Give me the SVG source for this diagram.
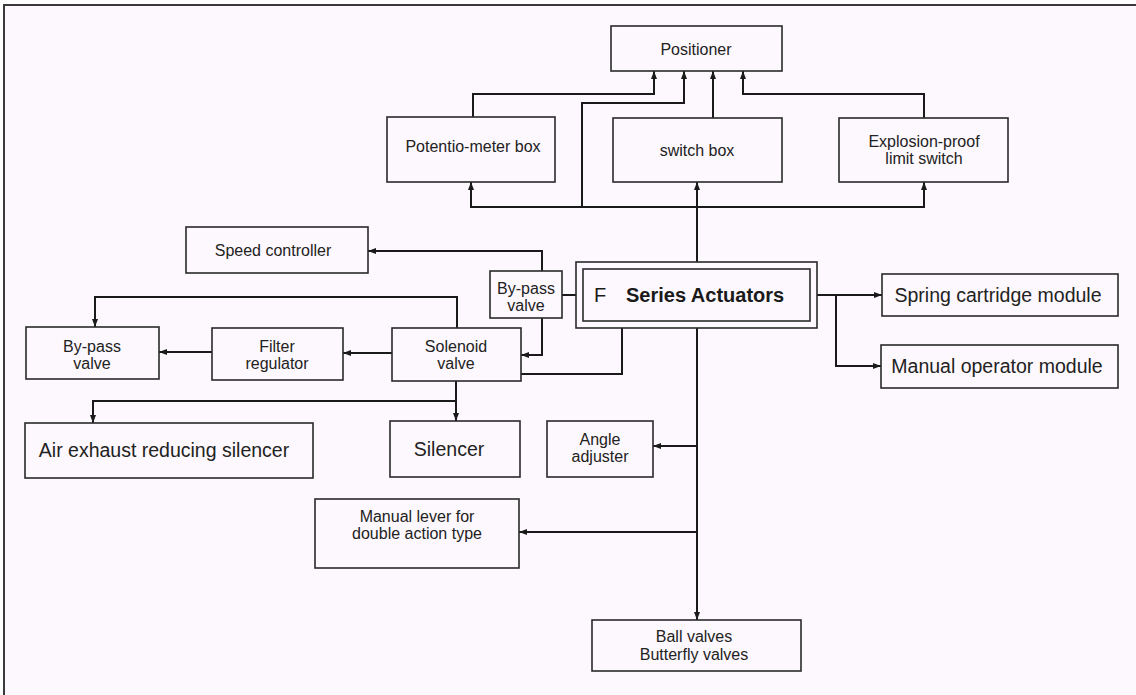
<svg xmlns="http://www.w3.org/2000/svg" width="1136" height="695" viewBox="0 0 1136 695">
<defs>
<marker id="ah" viewBox="0 0 8 6" refX="8" refY="3" markerWidth="8" markerHeight="6" markerUnits="userSpaceOnUse" orient="auto">
<path d="M0,0 L8,3 L0,6 z" fill="#1a1a1a"/>
</marker>
<style>
.box{fill:none;stroke:#2a2a2a;stroke-width:1.6}
.c{fill:none;stroke:#1a1a1a;stroke-width:2}
.a{marker-end:url(#ah)}
.t{font-family:"Liberation Sans",Arial,sans-serif;font-size:16px;fill:#222;text-anchor:middle}
.g{font-family:"Liberation Sans",Arial,sans-serif;font-size:19.5px;fill:#222;text-anchor:middle}
</style>
</defs>
<rect x="0" y="0" width="1136" height="695" fill="#ffffff"/>
<rect x="4" y="5" width="1132" height="690" fill="#fdf8fd"/>
<path d="M4,695 V5 H1136" fill="none" stroke="#3a3a3a" stroke-width="2"/>

<g id="connectors">
<path class="c a" d="M473,117 V94 H654 V71"/>
<path class="c a" d="M582,207 V103 H684 V71"/>
<path class="c a" d="M713,118 V71"/>
<path class="c a" d="M924,118 V94 H743 V71"/>
<path class="c a" d="M697,262 V182"/>
<path class="c a" d="M582,207 H471 V182"/>
<path class="c a" d="M582,207 H924 V182"/>
<path class="c a" d="M542,271 V251 H368"/>
<path class="c" d="M562,295 H576"/>
<path class="c a" d="M542,318 V355 H521"/>
<path class="c" d="M622,328 V374 H521"/>
<path class="c a" d="M392,353 H343"/>
<path class="c a" d="M212,352 H159"/>
<path class="c a" d="M457,328 V297 H95 V327"/>
<path class="c a" d="M456,381 V401 H93 V423"/>
<path class="c a" d="M456,401 V421"/>
<path class="c a" d="M697,328 V620"/>
<path class="c a" d="M697,446 H653"/>
<path class="c a" d="M697,532 H519"/>
<path class="c a" d="M817,295 H882"/>
<path class="c a" d="M836,295 V366 H881"/>
</g>

<g id="positioner"><rect class="box" x="611" y="26" width="171" height="45"/><text class="t" x="696" y="55">Positioner</text></g>
<g id="potentiometer-box"><rect class="box" x="387" y="117" width="168" height="65"/><text class="t" x="473" y="152">Potentio-meter box</text></g>
<g id="switch-box"><rect class="box" x="613" y="118" width="169" height="64"/><text class="t" x="697" y="156">switch box</text></g>
<g id="explosion-proof"><rect class="box" x="839" y="118" width="169" height="64"/><text class="t" x="924" y="147">Explosion-proof</text><text class="t" x="924" y="164">limit switch</text></g>
<g id="speed-controller"><rect class="box" x="186" y="227" width="182" height="46"/><text class="t" x="273" y="256">Speed controller</text></g>
<g id="bypass-small"><rect class="box" x="490" y="271" width="72" height="47"/><text class="t" x="526" y="294">By-pass</text><text class="t" x="526" y="311">valve</text></g>
<g id="f-series"><rect class="box" x="576" y="262" width="241" height="66"/><rect class="box" x="583" y="269" width="227" height="52"/><text font-family="Liberation Sans,Arial,sans-serif" font-size="20" fill="#1a1a1a" x="594" y="302">F</text><text font-family="Liberation Sans,Arial,sans-serif" font-size="20" font-weight="bold" fill="#1a1a1a" x="626" y="302">Series Actuators</text></g>
<g id="spring-cartridge"><rect class="box" x="882" y="274" width="236" height="42"/><text class="g" x="998" y="302">Spring cartridge module</text></g>
<g id="manual-operator"><rect class="box" x="881" y="345" width="237" height="43"/><text class="g" x="997" y="373">Manual operator module</text></g>
<g id="bypass-left"><rect class="box" x="26" y="327" width="133" height="52"/><text class="t" x="92" y="352">By-pass</text><text class="t" x="92" y="369">valve</text></g>
<g id="filter-regulator"><rect class="box" x="212" y="328" width="131" height="52"/><text class="t" x="277" y="352">Filter</text><text class="t" x="277" y="369">regulator</text></g>
<g id="solenoid-valve"><rect class="box" x="392" y="328" width="129" height="53"/><text class="t" x="456" y="352">Solenoid</text><text class="t" x="456" y="369">valve</text></g>
<g id="air-exhaust"><rect class="box" x="25" y="423" width="288" height="55"/><text class="g" x="164" y="457">Air exhaust reducing silencer</text></g>
<g id="silencer"><rect class="box" x="390" y="421" width="130" height="56"/><text class="g" x="449" y="456">Silencer</text></g>
<g id="angle-adjuster"><rect class="box" x="547" y="421" width="106" height="56"/><text class="t" x="600" y="445">Angle</text><text class="t" x="600" y="462">adjuster</text></g>
<g id="manual-lever"><rect class="box" x="315" y="499" width="204" height="69"/><text class="t" x="417" y="522">Manual lever for</text><text class="t" x="417" y="539">double action type</text></g>
<g id="ball-valves"><rect class="box" x="592" y="620" width="209" height="51"/><text class="t" x="694" y="642">Ball valves</text><text class="t" x="694" y="660">Butterfly valves</text></g>
</svg>
